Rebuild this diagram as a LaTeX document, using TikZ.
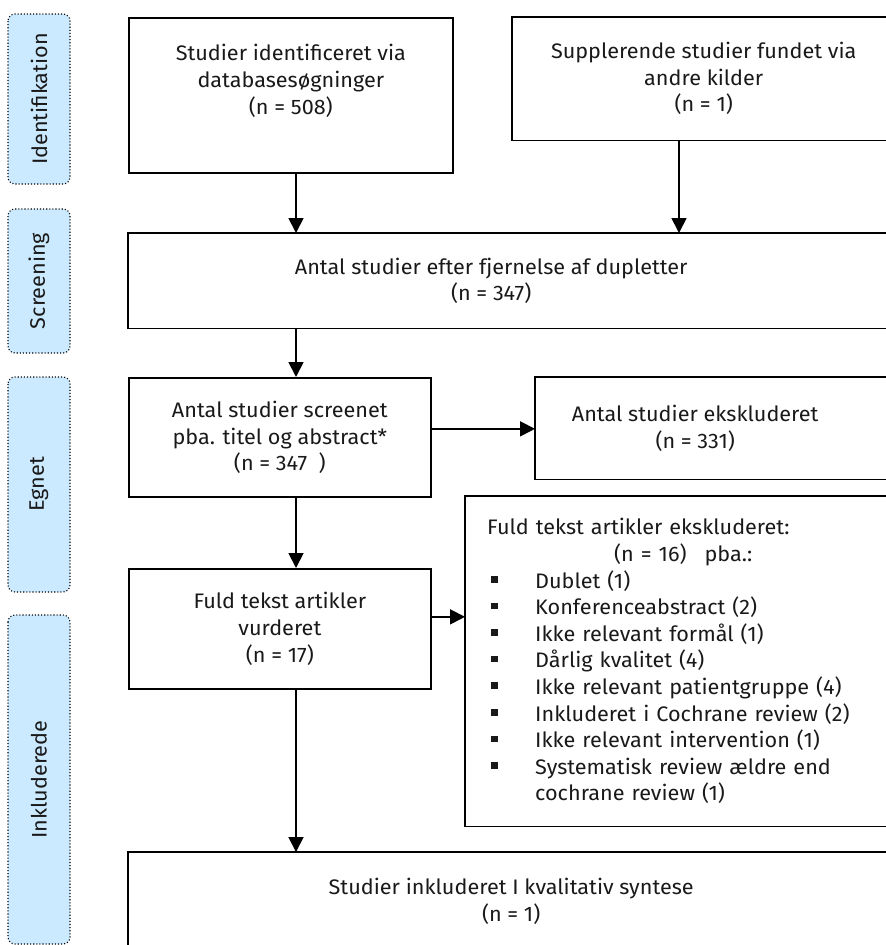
\documentclass[tikz,border=0pt]{standalone}
\usepackage{fontspec}
\setmainfont{Fira Sans}[FakeStretch = 1.03]
\usepackage{tikz}
\usetikzlibrary{arrows.meta}

\definecolor{phase}{RGB}{204, 234, 255}
\newcommand{\itemsq}{\hspace*{4pt}\makebox[44pt][l]{\raisebox{5.5pt}{\rule{6.5pt}{6.5pt}}}}

\tikzset{
  phasebox/.style = {draw = black, fill = phase, dotted, line width = 1.1pt, rounded corners = 7pt, rotate = 90, minimum height = 62pt, inner sep = 0pt, font = \fontsize{21}{25}\selectfont},
  box/.style = {draw = black, line width = 1.7pt, align = center, inner sep = 0pt, anchor = north west},
  openbox/.style = {align = center, inner sep = 0pt, anchor = north west},
  boxline/.style = {draw = black, line width = 1.7pt},
  arr/.style = {line width = 1.8pt, -{Triangle[length = 15pt, width = 15pt]}}
}

\begin{document}
\begin{tikzpicture}[x = 1pt, y = -1pt, font = \fontsize{21}{26.6}\selectfont, text = black!90]
  \useasboundingbox (0, 0) rectangle (886, 945);

  \node[phasebox, minimum width = 170pt] (idf) at (39, 99) {Identifikation};
  \node[phasebox, minimum width = 144pt] (scr) at (39, 281) {Screening};
  \node[phasebox, minimum width = 215pt] (egn) at (39, 484.5) {Egnet};
  \node[phasebox, minimum width = 329pt] (ink) at (39, 779.5) {Inkluderede};

  \node[box, minimum width = 324pt, text height = 69.2pt, text depth = 31.8pt, inner ysep = 27pt] (db) at (128, 17) {Studier identificeret via\\databasesøgninger\\(n = 508)};
  \node[openbox, minimum width = 383pt, minimum height = 123pt] (other) at (512, 17) {Supplerende studier fundet via\\andre kilder\\(n = 1)};
  \node[openbox, minimum width = 726pt, minimum height = 95pt] (dup) at (128, 233) {Antal studier efter fjernelse af dupletter\\(n = 347)};
  \node[box, minimum width = 302pt, minimum height = 119pt] (scrn) at (128, 377) {Antal studier screenet\\pba. titel og abstract*\\(n = 347\ \ )};
  \node[openbox, minimum width = 320pt, minimum height = 102pt] (excl) at (535, 377) {Antal studier ekskluderet\\(n = 331)};
  \node[box, minimum width = 302pt, minimum height = 120pt] (full) at (128, 568) {Fuld tekst artikler\\vurderet\\(n = 17)};
  \node[openbox, align = left, text width = 380pt, inner xsep = 22pt, minimum height = 330pt] (fexcl) at (465, 496) {Fuld tekst artikler ekskluderet:\\
    \hspace*{127pt}(n = 16)\hspace{11pt} pba.:\\
    \itemsq Dublet (1)\\
    \itemsq Konferenceabstract (2)\\
    \itemsq Ikke relevant formål (1)\\
    \itemsq Dårlig kvalitet (4)\\
    \itemsq Ikke relevant patientgruppe (4)\\
    \itemsq Inkluderet i Cochrane review (2)\\
    \itemsq Ikke relevant intervention (1)\\
    \itemsq Systematisk review ældre end\\
    \hspace*{48pt}cochrane review (1)};
  \node[openbox, minimum width = 766pt, minimum height = 98pt] (incl) at (128, 852) {Studier inkluderet I kvalitativ syntese\\(n = 1)};

  \draw[boxline] ([xshift = 60pt]other.north east) -| (other.south west) -- ([xshift = 60pt]other.south east);
  \draw[boxline] ([xshift = 60pt]dup.north east) -| (dup.south west) -- ([xshift = 60pt]dup.south east);
  \draw[boxline] ([xshift = 60pt]excl.north east) -| (excl.south west) -- ([xshift = 60pt]excl.south east);
  \draw[boxline] ([xshift = 60pt]fexcl.north east) -| (fexcl.south west) -- ([xshift = 60pt]fexcl.south east);
  \draw[boxline] ([xshift = 60pt]incl.north east) -| (incl.south west) -- ([xshift = 60pt]incl.south east);

  \coordinate (spine) at (296, 0);
  \coordinate (side) at (679, 0);
  \draw[arr] (db.south -| spine) -- (dup.north -| spine);
  \draw[arr] (other.south -| side) -- (dup.north -| side);
  \draw[arr] (dup.south -| spine) -- (scrn.north -| spine);
  \draw[arr] ([yshift = 8.5pt]scrn.east) -- ([yshift = 8.5pt]scrn.east -| excl.west);
  \draw[arr] (scrn.south -| spine) -- (full.north -| spine);
  \draw[arr] ([yshift = 12pt]full.east) -- ([yshift = 12pt]full.east -| fexcl.west);
  \draw[arr] (full.south -| spine) -- (incl.north -| spine);
\end{tikzpicture}
\end{document}
